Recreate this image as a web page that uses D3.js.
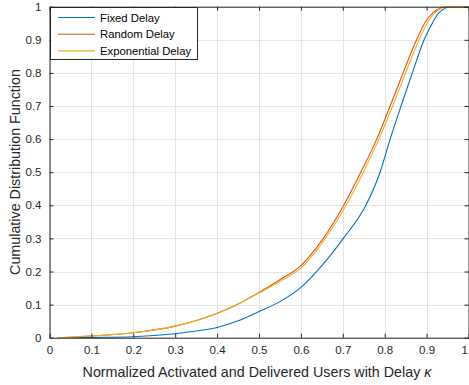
<!DOCTYPE html>
<html><head><meta charset="utf-8">
<script src="https://cdnjs.cloudflare.com/ajax/libs/d3/7.8.5/d3.min.js"></script>
<style>html,body{margin:0;padding:0;background:#fff;}svg{display:block;font-family:"Liberation Sans",Arial,Helvetica,sans-serif;}</style>
</head><body><svg id="c" width="469" height="385"></svg>
<script>
const seriesNames = ["Fixed Delay", "Random Delay", "Exponential Delay"];
const seriesColors = ["#0072BD", "#D95319", "#EDB120"];
const fixedX = [0.05,0.1,0.2,0.3,0.35,0.4,0.45,0.5,0.55,0.6,0.65,0.7,0.755,0.789,0.813,0.839,0.866,0.894,0.918,0.928,0.9375,0.956,1.0];
const fixedY = [0,0.0008,0.003,0.012,0.02,0.031,0.051,0.079,0.109,0.152,0.218,0.298,0.4,0.5,0.6,0.7,0.8,0.9,0.96,0.98,0.99,1.0,1.0];
const randomX = [0.02,0.1,0.2,0.3,0.4,0.45,0.5,0.55,0.6,0.65,0.7,0.743,0.781,0.813,0.844,0.876,0.9,0.914,0.924,0.944,1.0];
const randomY = [0,0.005,0.015,0.035,0.074,0.102,0.137,0.175,0.218,0.294,0.395,0.5,0.6,0.7,0.8,0.9,0.96,0.98,0.99,1.0,1.0];
const expX = [0.02,0.1,0.2,0.3,0.4,0.45,0.5,0.55,0.6,0.65,0.708,0.749,0.786,0.819,0.85,0.882,0.906,0.918,0.928,0.95,1.0];
const expY = [0,0.005,0.015,0.035,0.073,0.101,0.135,0.170,0.210,0.285,0.4,0.5,0.6,0.7,0.8,0.9,0.96,0.98,0.99,1.0,1.0];
const xTicks = [0,0.1,0.2,0.3,0.4,0.5,0.6,0.7,0.8,0.9,1];
const yTicks = [0,0.1,0.2,0.3,0.4,0.5,0.6,0.7,0.8,0.9,1];
const xLabel = "Normalized Activated and Delivered Users with Delay ";
const kappa = "\u03BA";
const yLabel = "Cumulative Distribution Function";

const svg = d3.select("#c");
const L = 49.5, R = 468.5, T = 6.7, B = 337.7;
const x = d3.scaleLinear().domain([0,1]).range([L,R]);
const y = d3.scaleLinear().domain([0,1]).range([B,T]);
const axisColor = "#262626";
const fmt = d => d3.format("")(d);

// grid
const g = svg.append("g");
g.selectAll(".gx").data(xTicks).enter().append("line")
  .attr("x1",d=>Math.round(x(d))+0.5).attr("x2",d=>Math.round(x(d))+0.5).attr("y1",T).attr("y2",B)
  .attr("stroke","#e5e5e5").attr("stroke-width",1);
g.selectAll(".gy").data(yTicks).enter().append("line")
  .attr("y1",d=>Math.round(y(d))+0.5).attr("y2",d=>Math.round(y(d))+0.5).attr("x1",L).attr("x2",R)
  .attr("stroke","#e5e5e5").attr("stroke-width",1);

// curves
const series = [[fixedX,fixedY],[randomX,randomY],[expX,expY]];
const line = d3.line().x(d=>x(d[0])).y(d=>y(d[1])).curve(d3.curveMonotoneX);
[0,1,2].forEach(i=>{
  const pts = series[i][0].map((v,k)=>[v, series[i][1][k]]);
  svg.append("path").attr("d",line(pts)).attr("fill","none")
    .attr("stroke",seriesColors[i]).attr("stroke-width",1.1);
});

// axes
const tl = 4;
const ax = svg.append("g").attr("transform",`translate(0,${B})`)
  .call(d3.axisBottom(x).tickValues(xTicks).tickFormat(fmt).tickSizeInner(-tl).tickSizeOuter(0).tickPadding(8));
const axT = svg.append("g").attr("transform",`translate(0,${T})`)
  .call(d3.axisTop(x).tickValues(xTicks).tickFormat("").tickSizeInner(-tl).tickSizeOuter(0));
const ay = svg.append("g").attr("transform",`translate(${L},0)`)
  .call(d3.axisLeft(y).tickValues(yTicks).tickFormat(fmt).tickSizeInner(-tl).tickSizeOuter(0).tickPadding(8));
const ayR = svg.append("g").attr("transform",`translate(${R},0)`)
  .call(d3.axisRight(y).tickValues(yTicks).tickFormat("").tickSizeInner(-tl).tickSizeOuter(0));
[ax,axT,ay,ayR].forEach(a=>{
  a.select(".domain").attr("stroke",axisColor);
  a.selectAll(".tick line").attr("stroke",axisColor);
  a.selectAll(".tick text").attr("fill",axisColor).style("font-size","11.5px").style("font-family","'Liberation Sans',Arial,sans-serif");
});
ax.selectAll(".tick text").filter(d=>d===1).attr("text-anchor","end").attr("dx","-1");

// axis labels
const xl = svg.append("text").attr("x",257).attr("y",377).attr("text-anchor","middle")
  .attr("fill",axisColor).style("font-size","14.3px");
xl.append("tspan").text(xLabel);
xl.append("tspan").text(kappa).style("font-style","italic");
svg.append("text").attr("transform",`translate(20,172) rotate(-90)`).attr("text-anchor","middle")
  .attr("fill",axisColor).style("font-size","14.3px").text(yLabel);

// legend
const lg = svg.append("g");
lg.append("rect").attr("x",50.5).attr("y",7.5).attr("width",147).attr("height",52)
  .attr("fill","#fff").attr("stroke",axisColor).attr("stroke-width",1);
seriesNames.forEach((n,i)=>{
  const yy = 17.5 + i*16.7;
  lg.append("line").attr("x1",58).attr("x2",95).attr("y1",yy).attr("y2",yy)
    .attr("stroke",seriesColors[i]).attr("stroke-width",1.1);
  lg.append("text").attr("x",100).attr("y",yy+4).attr("fill","#000").style("font-size","11.3px").text(n);
});
</script></body></html>
